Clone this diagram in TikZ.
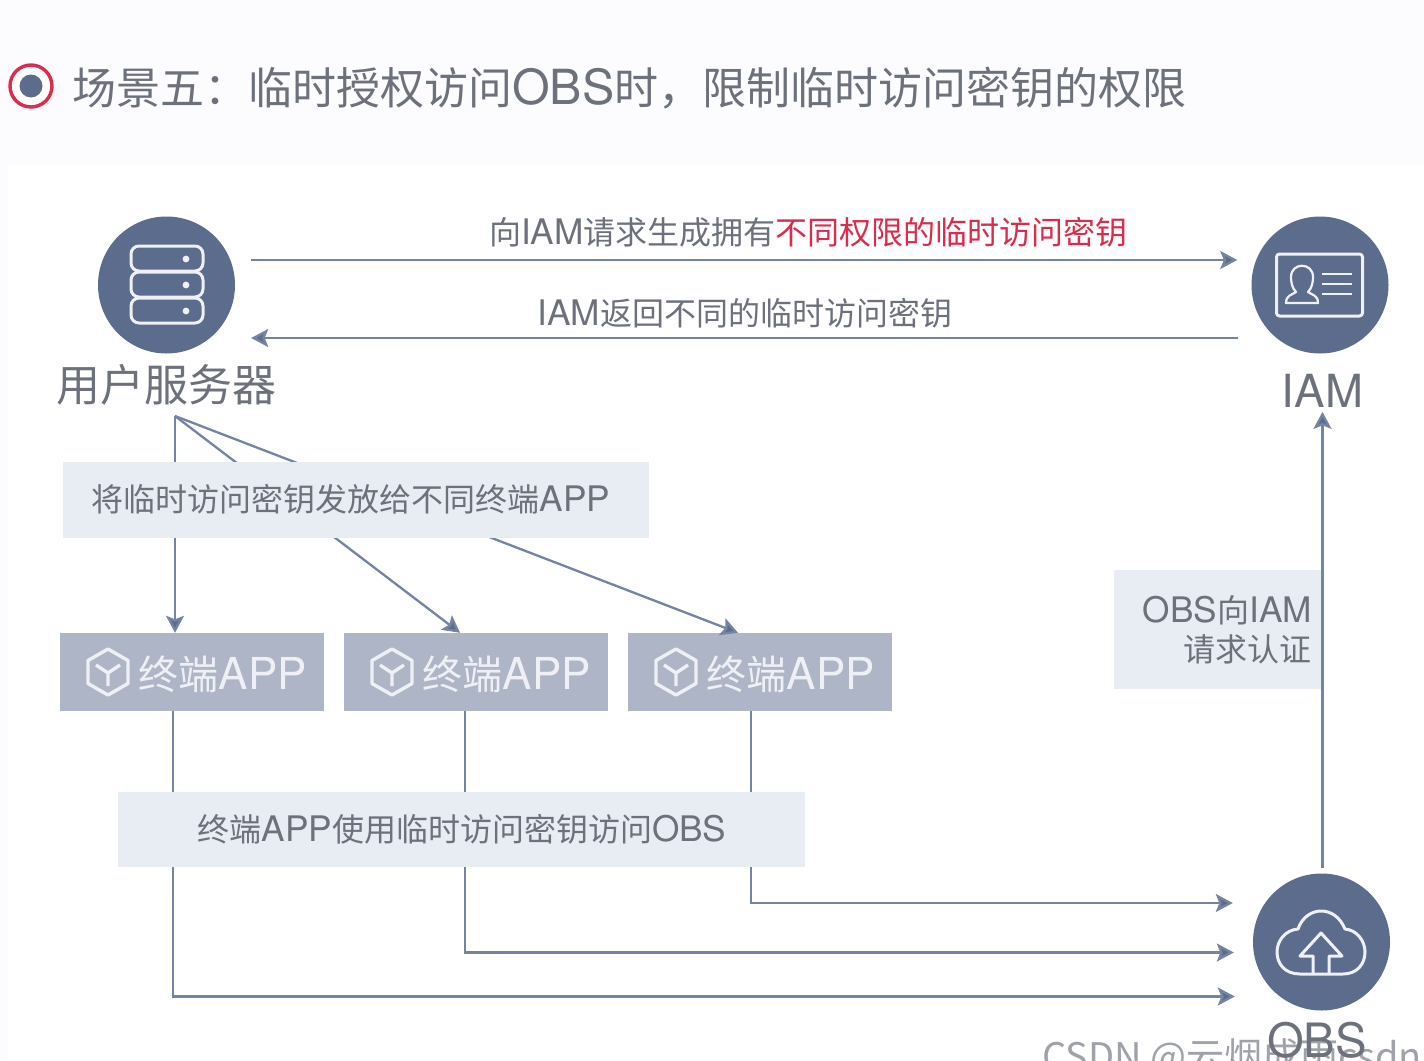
\documentclass[tikz,border=0pt]{standalone}
\usepackage{fontspec}
\setmainfont{Noto Sans CJK SC}
\newfontfamily\lat[Scale=1.1]{TeX Gyre Heros}
\usetikzlibrary{arrows.meta,calc}
\definecolor{dark}{HTML}{5C6C8C}
\definecolor{wire}{HTML}{7584A3}
\definecolor{pale}{HTML}{E8ECF3}
\definecolor{appbox}{HTML}{ADB5C6}
\definecolor{ink}{HTML}{6C717C}
\definecolor{hot}{HTML}{DB2C4C}
\definecolor{page}{HTML}{FCFCFE}
\definecolor{icon}{HTML}{EEF0F5}
\tikzset{
  hub/.style={circle,fill=dark,minimum size=137pt,inner sep=0pt},
  palebox/.style={fill=pale,inner sep=0pt},
  termbox/.style={fill=appbox,minimum width=264pt,minimum height=78pt,inner sep=0pt},
  lab/.style={inner sep=0pt,text=ink,font=\fontsize{32}{38}\selectfont},
  biglab/.style={inner sep=0pt,text=ink,font=\fontsize{44}{52}\selectfont},
  termtxt/.style={inner sep=0pt,text=icon,font=\fontsize{40}{50}\selectfont},
  wireline/.style={draw=wire,line width=2.3pt},
  arrowline/.style={wireline,-{Stealth[length=17pt,width=18pt,inset=3.5pt,fill=dark]}},
  glyph/.style={draw=icon,line width=3pt,line join=round},
}
\newcommand{\cubeicon}[2]{%
  \begin{scope}[shift={(#1,#2)}]
    \draw[glyph,line width=3.4pt] (0,-23) -- (20,-11.5) -- (20,11.5) -- (0,23) -- (-20,11.5) -- (-20,-11.5) -- cycle;
    \draw[glyph,line width=3.4pt] (0,14) -- (0,1) (-12,-7) -- (0,1) -- (12,-7);
  \end{scope}}
\begin{document}
\begin{tikzpicture}[x=1pt,y=-1pt]
\useasboundingbox (0,0) rectangle (1424,1060);
\fill[page] (0,0) rectangle (1424,1060);
\fill[white] (8,165) rectangle (1424,1060);

% title
\node[circle,draw=hot,line width=3.4pt,fill=white,minimum size=42pt,inner sep=0pt] (ring) at (31,86) {};
\node[circle,fill=dark,minimum size=23pt,inner sep=0pt] (dot) at (ring.center) {};
\node[inner sep=0pt,anchor=west,text=ink,font=\fontsize{44}{52}\selectfont] (title) at (72,88) {场景五：临时授权访问{\lat OBS}时，限制临时访问密钥的权限};

% hubs
\node[hub] (server) at (166.5,285) {};
\node[hub] (iam) at (1320,285) {};
\node[hub] (obs) at (1321.5,942) {};
\node[biglab] (serverlab) at (166,385) {用户服务器};
\node[inner sep=0pt,text=ink,font=\fontsize{41.5}{52}\selectfont\lat] (iamlab) at (1322.5,391) {IAM};
\node[inner sep=0pt,text=ink,font=\fontsize{43}{52}\selectfont\lat] (obslab) at (1317,1040) {OBS};

% server icon
\foreach \yy in {246,272,298}{
  \draw[glyph,rounded corners=8pt] (131,\yy) rectangle (203,\yy+25);
  \fill[icon] (186,\yy+13) circle (3.4);
}
% iam icon
\draw[glyph,rounded corners=3pt] (1276.5,254) rectangle (1362.5,316);
\draw[glyph,line width=2.4pt] (1322,274) -- (1352,274) (1322,284) -- (1352,284) (1322,294) -- (1352,294);
\draw[glyph,line width=2.2pt] (1296,292) .. controls (1292,288) and (1291,282) .. (1291,277)
  .. controls (1291,262) and (1313,262) .. (1313,277)
  .. controls (1313,282) and (1312,288) .. (1308,292)
  .. controls (1312,295) and (1318,295) .. (1318,303) -- (1286,303)
  .. controls (1286,295) and (1292,295) .. (1296,292) -- cycle;
% obs icon
\draw[glyph] (1300,974) .. controls (1285,974) and (1277,964) .. (1277,952)
  .. controls (1277,941) and (1285,930) .. (1298,929)
  .. controls (1302,917) and (1312,911) .. (1321,911)
  .. controls (1331,911) and (1340,917) .. (1345,929)
  .. controls (1357,930) and (1365,941) .. (1365,952)
  .. controls (1365,964) and (1357,974) .. (1343,974) -- cycle;
\draw[glyph] (1313,974) -- (1313,956) -- (1300,956) -- (1321,933) -- (1342,956) -- (1329,956) -- (1329,974);

% top labels
\node[lab] (reqlab) at (808.5,232) {向{\lat IAM}请求生成拥有\textcolor{hot}{不同权限的临时访问密钥}};
\node[lab] (retlab) at (745,313) {{\lat IAM}返回不同的临时访问密钥};
\draw[arrowline,shorten <=16pt,shorten >=14pt] ([yshift=25pt]server.east) -- ([yshift=25pt]iam.west);
\draw[arrowline,shorten <=13pt,shorten >=16pt] ([yshift=-53pt]iam.west) -- ([yshift=-53pt]server.east);

% terminal boxes
\node[termbox] (app1) at (192,672) {};
\node[termbox] (app2) at (476,672) {};
\node[termbox] (app3) at (760,672) {};
\node[termtxt] (t1) at (223,674) {终端{\lat APP}};
\node[termtxt] (t2) at (507,674) {终端{\lat APP}};
\node[termtxt] (t3) at (791,674) {终端{\lat APP}};
\cubeicon{108}{672}
\cubeicon{392}{672}
\cubeicon{676}{672}

% fan from server
\coordinate (fan) at (175,416);
\draw[arrowline] (fan) -- (fan |- app1.north);
\draw[arrowline] (fan) -- ([xshift=-16pt]app2.north);
\draw[arrowline] (fan) -- ([xshift=-22pt]app3.north);

% terminals to obs
\draw[arrowline,shorten >=18pt] ([xshift=-19pt]app1.south) |- ([yshift=-54.5pt]obs.west);
\draw[arrowline,shorten >=19pt] ([xshift=-11pt]app2.south) |- ([yshift=-10.5pt]obs.west);
\draw[arrowline,shorten >=20pt] ([xshift=-9pt]app3.south) |- ([yshift=39pt]obs.west);

% pale boxes on top of the lines
\node[palebox,minimum width=586pt,minimum height=76pt] (give) at (356,500) {};
\node[lab] (givetxt) at (351,499) {将临时访问密钥发放给不同终端{\lat APP}};
\node[palebox,minimum width=687pt,minimum height=75pt] (use) at (461.5,829.5) {};
\node[lab] (usetxt) at (462,829) {终端{\lat APP}使用临时访问密钥访问{\lat OBS}};
\node[palebox,minimum width=208pt,minimum height=119pt] (auth) at (1218,629.5) {};
\node[lab,align=right,anchor=east,font=\fontsize{32}{39}\selectfont] (authtxt) at (1312,630) {{\lat OBS}向{\lat IAM}\\请求认证};

% obs to iam
\draw[arrowline,shorten <=5pt,shorten >=4pt] ([xshift=1pt]obs.north) -- ([xshift=1pt]obs.north |- iamlab.south);

% watermark
\node[inner sep=0pt,anchor=base west,text=ink,opacity=.65,font=\fontsize{38}{44}\selectfont] (mark) at (1042,1070) {CSDN @云烟成雨csdn};
\end{tikzpicture}
\end{document}
